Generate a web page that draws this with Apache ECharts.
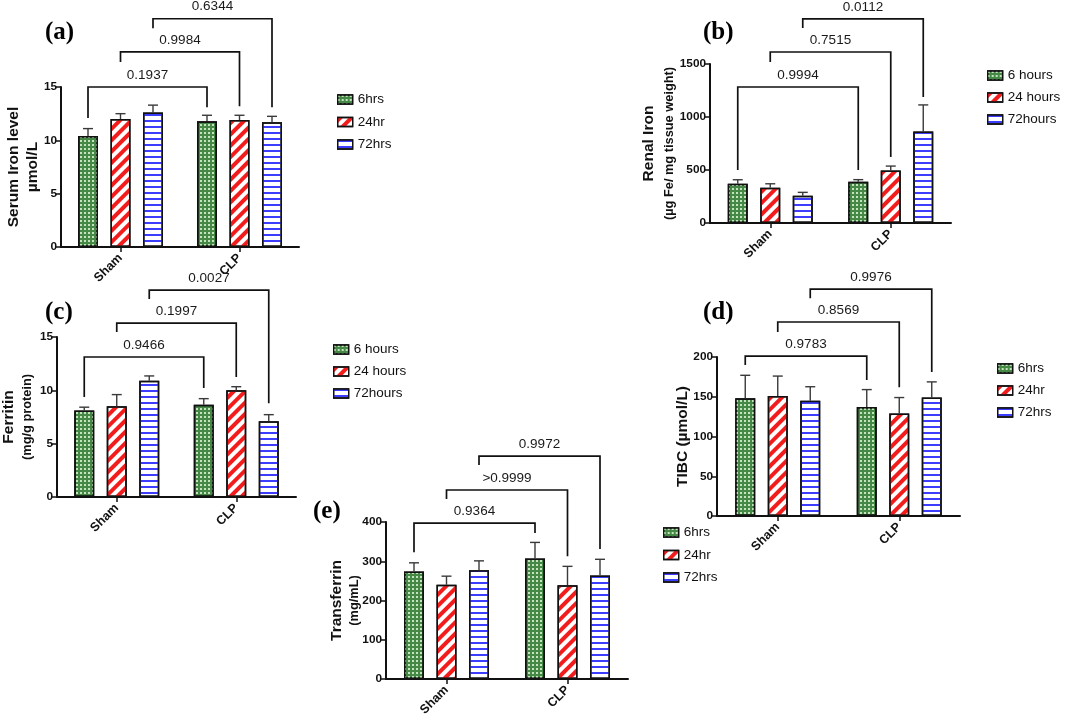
<!DOCTYPE html>
<html>
<head>
<meta charset="utf-8">
<script src="https://cdn.jsdelivr.net/npm/echarts@6/dist/echarts.min.js"></script>
<style>html,body{margin:0;padding:0;background:#fff}#c{width:1065px;height:717px}</style>
</head>
<body>
<div id="c"></div>
<script>
// ---------- DATA ----------
const categories = ['Sham', 'CLP'];

// (a) Serum iron (µmol/L)
const aNames = ['6hrs', '24hr', '72hrs'];
const aMean6 = [10.4, 11.8], aMean24 = [12.0, 11.9], aMean72 = [12.6, 11.7];
const aErr6 = [0.7, 0.55], aErr24 = [0.5, 0.45], aErr72 = [0.7, 0.55];
const aP = ['0.1937', '0.9984', '0.6344'];

// (b) Renal iron (µg Fe / mg tissue weight)
const bNames = ['6 hours', '24 hours', '72hours'];
const bMean6 = [370, 389], bMean24 = [333, 496], bMean72 = [257, 863];
const bErr6 = [38, 20], bErr24 = [37, 41], bErr72 = [32, 251];
const bP = ['0.9994', '0.7515', '0.0112'];

// (c) Ferritin (mg/g protein)
const cNames = ['6 hours', '24 hours', '72hours'];
const cMean6 = [8.12, 8.66], cMean24 = [8.5, 10.0], cMean72 = [10.9, 7.1];
const cErr6 = [0.3, 0.56], cErr24 = [1.1, 0.34], cErr72 = [0.45, 0.62];
const cP = ['0.9466', '0.1997', '0.0027'];

// (d) TIBC (µmol/L)
const dNames = ['6hrs', '24hr', '72hrs'];
const dMean6 = [148, 137], dMean24 = [151, 129], dMean72 = [145, 149];
const dErr6 = [29, 22], dErr24 = [25, 20], dErr72 = [17.6, 19.7];
const dP = ['0.9783', '0.8569', '0.9976'];

// (e) Transferrin (mg/mL)
const eNames = ['6hrs', '24hr', '72hrs'];
const eMean6 = [274, 307], eMean24 = [240, 239], eMean72 = [277, 264];
const eErr6 = [22, 41], eErr24 = [22, 48], eErr72 = [24, 41];
const eP = ['0.9364', '>0.9999', '0.9972'];

// ---------- LAYOUT (positions / styles) ----------
const FONT = "'Liberation Sans', Arial, sans-serif";
const SERIF = "'Liberation Serif', 'Times New Roman', serif";
const BAR_W = 20;
const OFF = [-32.5, 0, 32.5];

const panels = [
  { letter: '(a)', names: aNames, means: [aMean6, aMean24, aMean72], errs: [aErr6, aErr24, aErr72], p: aP,
    grid: { left: 61, top: 87, width: 238, height: 160 }, max: 15, interval: 5,
    yName: '{t|Serum Iron level}\n{t|µmol/L}', nameGap: 18.5, lh: 19,
    letterPos: { left: 45, top: 20 }, legendPos: { left: 337, top: 92.5, gap: 8.5 },
    br: [[15, 12.1, 13.1], [18.3, 17.35, 13.2], [21.4, 20.5, 13.1]] },
  { letter: '(b)', names: bNames, means: [bMean6, bMean24, bMean72], errs: [bErr6, bErr24, bErr72], p: bP,
    grid: { left: 710, top: 64, width: 241, height: 159 }, max: 1500, interval: 500,
    yName: '{t|Renal Iron}\n{s|(µg Fe/ mg tissue weight)}', nameGap: 31, lh: 20,
    letterPos: { left: 703, top: 20 }, legendPos: { left: 987, top: 68.5, gap: 8 },
    br: [[1283, 500, 500], [1613, 1519, 623], [1925, 1840, 1189]] },
  { letter: '(c)', names: cNames, means: [cMean6, cMean24, cMean72], errs: [cErr6, cErr24, cErr72], p: cP,
    grid: { left: 57, top: 337, width: 239, height: 160 }, max: 15, interval: 5,
    yName: '{t|Ferritin}\n{s|(mg/g protein)}', nameGap: 21, lh: 18,
    letterPos: { left: 45, top: 300 }, legendPos: { left: 333, top: 342.5, gap: 8 },
    br: [[13.125, 9.375, 10.22], [16.31, 15.47, 11.25], [19.4, 18.56, 8.8]] },
  { letter: '(d)', names: dNames, means: [dMean6, dMean24, dMean72], errs: [dErr6, dErr24, dErr72], p: dP,
    grid: { left: 717, top: 357, width: 243, height: 159 }, max: 200, interval: 50,
    yName: '{t|TIBC (µmol/L)}', nameGap: 25, lh: 18,
    letterPos: { left: 703, top: 300 }, legendPos: { left: 997, top: 361.5, gap: 8 },
    br: [[201, 190, 171], [244, 231.5, 162], [285.5, 274, 181]] },
  { letter: '(e)', names: eNames, means: [eMean6, eMean24, eMean72], errs: [eErr6, eErr24, eErr72], p: eP,
    grid: { left: 386, top: 522, width: 242, height: 157 }, max: 400, interval: 100,
    yName: '{t|Transferrin}\n{s|(mg/mL)}', nameGap: 23, lh: 17.5,
    letterPos: { left: 313, top: 499 }, legendPos: { left: 663, top: 525.5, gap: 8.5 },
    br: [[397, 323, 372], [481.5, 458.6, 313], [568, 545, 331]] }
];

// fills: green checker, red diagonal stripes, blue horizontal lines
const fills = [
  { color: '#468846', decal: { symbol: 'rect', symbolSize: 1, color: '#c3e4bc', dashArrayX: [1.6, 1.4], dashArrayY: [1.6, 1.4], rotation: 0 } },
  { color: '#ffffff', decal: { symbol: 'rect', symbolSize: 1, color: '#f21c1c', dashArrayX: [1, 0], dashArrayY: [3.4, 3.4], rotation: -Math.PI / 4 } },
  { color: '#ffffff', decal: { symbol: 'rect', symbolSize: 1, color: '#3d3dff', dashArrayX: [1, 0], dashArrayY: [1.4, 4], rotation: 0 } }
];

const grids = [], xAxes = [], yAxes = [], series = [], legends = [], titles = [];

panels.forEach((P, pi) => {
  grids.push(Object.assign({ outerBoundsMode: 'none', containLabel: false }, P.grid));
  xAxes.push({
    type: 'category', gridIndex: pi, data: categories,
    axisLine: { show: true, lineStyle: { color: '#111', width: 2 } },
    axisTick: { show: true, alignWithLabel: true, length: 5, lineStyle: { color: '#111', width: 1.5 } },
    axisLabel: { rotate: 45, margin: 9, fontFamily: FONT, fontWeight: 'bold', fontSize: 12.5, color: '#111' },
    splitLine: { show: false }
  });
  yAxes.push({
    type: 'value', gridIndex: pi, min: 0, max: P.max, interval: P.interval,
    name: P.yName, nameLocation: 'middle', nameRotate: 90, nameGap: P.nameGap, nameMoveOverlap: false,
    nameTextStyle: {
      rich: {
        t: { fontFamily: FONT, fontWeight: 'bold', fontSize: 15.5, color: '#111', lineHeight: P.lh, align: 'center' },
        s: { fontFamily: FONT, fontWeight: 'bold', fontSize: 12.8, color: '#111', lineHeight: P.lh, align: 'center' }
      }
    },
    axisLine: { show: true, lineStyle: { color: '#111', width: 2 } },
    axisTick: { show: true, length: 5, lineStyle: { color: '#111', width: 1.5 } },
    axisLabel: { margin: 4, fontFamily: FONT, fontWeight: 'bold', fontSize: 11.8, color: '#111',
                 formatter: v => String(v) },
    splitLine: { show: false }
  });
  titles.push({
    text: P.letter, left: P.letterPos.left, top: P.letterPos.top, padding: 0,
    textStyle: { fontFamily: SERIF, fontWeight: 'bold', fontSize: 25, color: '#000' }
  });
  legends.push({
    data: P.names, orient: 'vertical', left: P.legendPos.left, top: P.legendPos.top, padding: 0,
    itemGap: P.legendPos.gap, itemWidth: 15, itemHeight: 9, icon: 'rect', selectedMode: false,
    itemStyle: { borderColor: '#111', borderWidth: 1.3 },
    textStyle: { fontFamily: FONT, fontSize: 13.5, color: '#111' }
  });

  // bars
  P.names.forEach((nm, gi) => {
    series.push({
      type: 'bar', name: nm, xAxisIndex: pi, yAxisIndex: pi,
      data: P.means[gi], barWidth: BAR_W, barGap: '62.5%', z: 2,
      itemStyle: { borderColor: '#111', borderWidth: 1.5, color: fills[gi].color, decal: fills[gi].decal },
      emphasis: { disabled: true }, animation: false
    });
  });

  // error bars (upper only)
  const errData = [];
  P.names.forEach((nm, gi) => {
    categories.forEach((c, ci) => errData.push([ci, gi, P.means[gi][ci], P.errs[gi][ci]]));
  });
  series.push({
    type: 'custom', xAxisIndex: pi, yAxisIndex: pi, z: 3, clip: false, silent: true, animation: false,
    encode: { x: 0, y: 2 }, data: errData,
    renderItem: (params, api) => {
      const g = api.value(1);
      const c0 = api.coord([api.value(0), api.value(2)]);
      const c1 = api.coord([api.value(0), api.value(2) + api.value(3)]);
      const x = c0[0] + OFF[g];
      const st = { stroke: '#3a3a3a', lineWidth: 1.4 };
      return { type: 'group', children: [
        { type: 'line', shape: { x1: x, y1: c0[1], x2: x, y2: c1[1] }, style: st },
        { type: 'line', shape: { x1: x - 5, y1: c1[1], x2: x + 5, y2: c1[1] }, style: st }
      ] };
    }
  });

  // significance brackets
  const brData = P.br.map((b, gi) => [0, gi, b[0], b[1], b[2]]);
  const labels = P.p;
  series.push({
    type: 'custom', xAxisIndex: pi, yAxisIndex: pi, z: 4, clip: false, silent: true, animation: false,
    encode: { x: 0, y: 2 }, data: brData,
    renderItem: (params, api) => {
      const g = api.value(1);
      const xL = api.coord([0, 0])[0] + OFF[g];
      const xR = api.coord([1, 0])[0] + OFF[g];
      const yT = api.coord([0, api.value(2)])[1];
      const yL = api.coord([0, api.value(3)])[1];
      const yR = api.coord([0, api.value(4)])[1];
      return { type: 'group', children: [
        { type: 'polyline', shape: { points: [[xL, yL], [xL, yT], [xR, yT], [xR, yR]] },
          style: { stroke: '#111', lineWidth: 1.7, fill: null } },
        { type: 'text', x: (xL + xR) / 2, y: yT - 12,
          style: { text: labels[params.dataIndex], align: 'center', verticalAlign: 'middle',
                   fontFamily: FONT, fontSize: 13.5, fill: '#1a1a1a' } }
      ] };
    }
  });
});

const chart = echarts.init(document.getElementById('c'), null, { renderer: 'canvas' });
chart.setOption({
  backgroundColor: '#ffffff',
  animation: false,
  title: titles,
  legend: legends,
  grid: grids,
  xAxis: xAxes,
  yAxis: yAxes,
  tooltip: { show: false },
  series: series
});
</script>
</body>
</html>
